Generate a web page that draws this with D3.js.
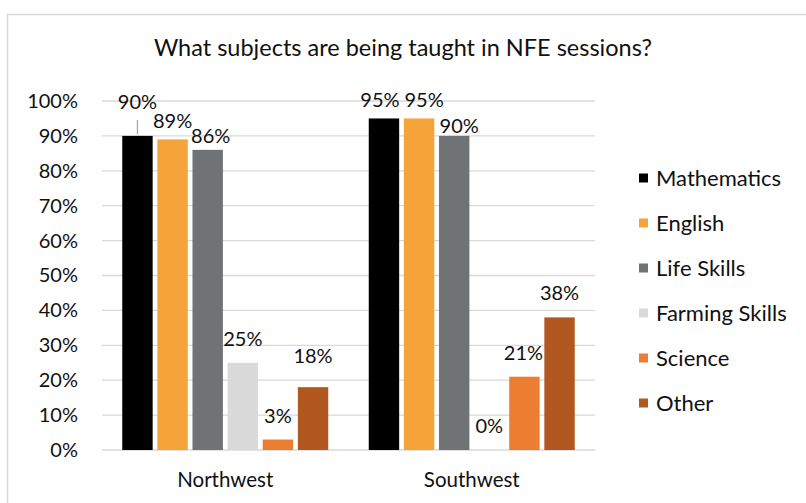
<!DOCTYPE html>
<html>
<head>
<meta charset="utf-8">
<script src="https://cdn.jsdelivr.net/npm/d3@7"></script>
<style>
  html, body { margin: 0; padding: 0; background: #ffffff; }
  svg { display: block; font-family: Lato, "Open Sans", sans-serif; }
</style>
</head>
<body>
<svg id="chart" width="806" height="503"></svg>
<script>
// Share of NFE sessions teaching each subject, by region
const regions = ["Northwest", "Southwest"];
const subjects = ["Mathematics", "English", "Life Skills", "Farming Skills", "Science", "Other"];
const northwest = [0.90, 0.89, 0.86, 0.25, 0.03, 0.18];
const southwest = [0.95, 0.95, 0.90, 0.00, 0.21, 0.38];
const yTicks = [0, 0.1, 0.2, 0.3, 0.4, 0.5, 0.6, 0.7, 0.8, 0.9, 1.0];
const subjectColors = ["#000000", "#F5A43A", "#6F7375", "#DADADA", "#ED7D31", "#B0581F"];

const valuesByRegion = [northwest, southwest];

const svg = d3.select("#chart");
const W = 806, H = 503;
const plot = { left: 102, right: 595, top: 101, bottom: 450 };
const ink = "#111111";

// chart frame (open on right and bottom edges)
svg.append("path")
  .attr("d", `M7.5,${H} L7.5,14.5 L${W},14.5`)
  .attr("fill", "none")
  .attr("stroke", "#D9D9D9")
  .attr("stroke-width", 1.5);

// title
svg.append("text")
  .attr("x", 403)
  .attr("y", 56)
  .attr("text-anchor", "middle")
  .attr("font-size", 23.5)
  .attr("fill", ink)
  .text("What subjects are being taught in NFE sessions?");

const y = d3.scaleLinear().domain([0, 1]).range([plot.bottom, plot.top]);
const x0 = d3.scaleBand().domain(regions).range([plot.left, plot.right]).padding(0);
const groupInset = 20.25;
const x1 = d3.scaleBand().domain(subjects)
  .range([groupInset, x0.bandwidth() - groupInset])
  .paddingInner(0.134).paddingOuter(0);
const color = d3.scaleOrdinal().domain(subjects).range(subjectColors);

// gridlines
svg.append("g")
  .selectAll("line")
  .data(yTicks)
  .join("line")
  .attr("x1", plot.left).attr("x2", plot.right)
  .attr("y1", d => y(d)).attr("y2", d => y(d))
  .attr("stroke", "#D9D9D9")
  .attr("stroke-width", 1.3);

// y axis labels
const yAxis = d3.axisLeft(y).tickValues(yTicks).tickFormat(d3.format(".0%")).tickSize(0).tickPadding(0);
const gy = svg.append("g").attr("transform", `translate(78,0)`).call(yAxis);
gy.select(".domain").remove();
gy.selectAll("text")
  .attr("font-family", "Lato, 'Open Sans', sans-serif")
  .attr("font-size", 20)
  .attr("fill", ink);

// category axis labels
const xAxis = d3.axisBottom(x0).tickSize(0).tickPadding(0);
const gx = svg.append("g").attr("transform", `translate(0,487)`).call(xAxis);
gx.select(".domain").remove();
gx.selectAll("text")
  .attr("font-family", "Lato, 'Open Sans', sans-serif")
  .attr("font-size", 20.5)
  .attr("fill", ink)
  .attr("dy", 0);

// bars
const rows = [];
regions.forEach((r, ri) => subjects.forEach((s, si) => rows.push({ region: r, subject: s, value: valuesByRegion[ri][si], ri, si })));

svg.append("g")
  .selectAll("rect")
  .data(rows)
  .join("rect")
  .attr("x", d => x0(d.region) + x1(d.subject))
  .attr("y", d => y(d.value))
  .attr("width", x1.bandwidth())
  .attr("height", d => y(0) - y(d.value))
  .attr("fill", d => color(d.subject));

// value labels: placed above each bar, a few shifted to avoid overlaps
const labelLift = 24;
const labelShift = {
  "Northwest|Mathematics": [0, -10],
  "Northwest|English": [0, 6],
  "Northwest|Life Skills": [3, 10],
  "Northwest|Other": [0, -7],
  "Southwest|Mathematics": [-4, 6],
  "Southwest|English": [5, 6],
  "Southwest|Life Skills": [5, 14],
  "Southwest|Science": [-1, 0]
};
const fmt = d3.format(".0%");
const labelPos = d => {
  const s = labelShift[d.region + "|" + d.subject] || [0, 0];
  return [x0(d.region) + x1(d.subject) + x1.bandwidth() / 2 + s[0], y(d.value) - labelLift + s[1]];
};

// leader line for the moved Northwest Mathematics label
const lead = rows.find(d => d.region === "Northwest" && d.subject === "Mathematics");
svg.append("line")
  .attr("x1", x0(lead.region) + x1(lead.subject) + x1.bandwidth() / 2)
  .attr("x2", x0(lead.region) + x1(lead.subject) + x1.bandwidth() / 2)
  .attr("y1", y(lead.value) - 2)
  .attr("y2", y(lead.value) - 16)
  .attr("stroke", "#A6A6A6")
  .attr("stroke-width", 1.3);

svg.append("g")
  .selectAll("text")
  .data(rows)
  .join("text")
  .attr("x", d => labelPos(d)[0])
  .attr("y", d => labelPos(d)[1])
  .attr("dy", "0.35em")
  .attr("text-anchor", "middle")
  .attr("font-size", 20)
  .attr("fill", ink)
  .text(d => fmt(d.value));

// legend
const legend = svg.append("g").attr("transform", "translate(639,178)");
const item = legend.selectAll("g")
  .data(subjects)
  .join("g")
  .attr("transform", (d, i) => `translate(0,${i * 45})`);
item.append("rect")
  .attr("x", 0).attr("y", -4.5)
  .attr("width", 9).attr("height", 9)
  .attr("fill", d => color(d));
item.append("text")
  .attr("x", 17)
  .attr("dy", "0.35em")
  .attr("font-size", 22)
  .attr("fill", ink)
  .text(d => d);
</script>
</body>
</html>
